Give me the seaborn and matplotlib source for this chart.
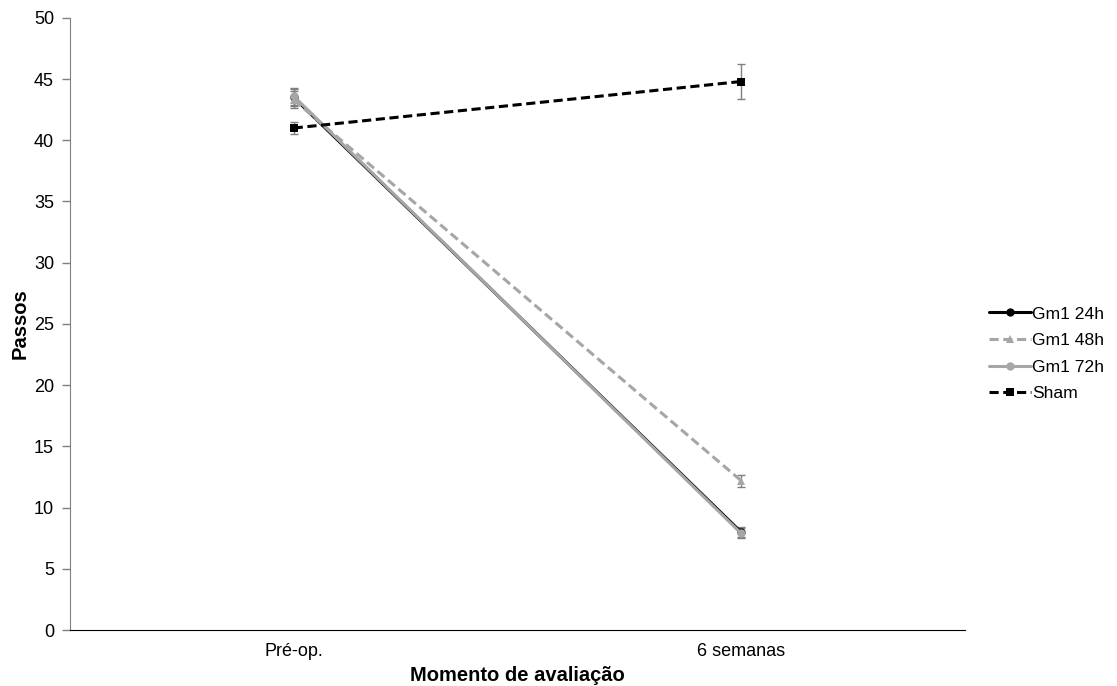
import numpy as np
import pandas as pd
import seaborn as sns
from matplotlib import pyplot as plt

# data
moments = ["Pré-op.", "6 semanas"]
series = ["Gm1 24h", "Gm1 48h", "Gm1 72h", "Sham"]
gm1_24h = [43.5, 8.0]
gm1_48h = [43.3, 12.2]
gm1_72h = [43.6, 7.9]
sham = [41.0, 44.8]
err_24h = [0.7, 0.4]
err_48h = [0.7, 0.5]
err_72h = [0.7, 0.4]
err_sham = [0.5, 1.4]

values = [gm1_24h, gm1_48h, gm1_72h, sham]
errors = [err_24h, err_48h, err_72h, err_sham]

df = pd.DataFrame(
    {
        "serie": np.repeat(series, len(moments)),
        "momento": moments * len(series),
        "x": list(range(len(moments))) * len(series),
        "passos": np.concatenate(values),
        "erro": np.concatenate(errors),
    }
)

sns.set_style("white")
plt.rcParams.update(
    {
        "font.family": ["Liberation Sans", "DejaVu Sans"],
        "text.color": "black",
        "axes.labelcolor": "black",
        "xtick.color": "black",
        "ytick.color": "black",
    }
)

colors = {"Gm1 24h": "black", "Gm1 48h": "#a6a6a6", "Gm1 72h": "#a6a6a6", "Sham": "black"}
markers = {"Gm1 24h": "o", "Gm1 48h": "^", "Gm1 72h": "o", "Sham": "s"}
dashes = {"Gm1 24h": "", "Gm1 48h": (3, 1.5), "Gm1 72h": "", "Sham": (3, 1.5)}

f = plt.figure(figsize=(11.17, 6.86), dpi=100)
ax = f.add_axes([0.0627, 0.0816, 0.801, 0.8924])

for s in series:
    sub = df[df["serie"] == s]
    ax.errorbar(
        sub["x"], sub["passos"], yerr=sub["erro"], fmt="none",
        ecolor="#7f7f7f", elinewidth=1, capsize=3, capthick=1, zorder=2,
    )

sns.lineplot(
    data=df, x="x", y="passos", hue="serie", style="serie",
    palette=colors, markers=markers, dashes=dashes,
    linewidth=2.2, markersize=6, markeredgewidth=0, ax=ax, zorder=3,
)

ax.set_xlim(-0.5, 1.5)
ax.set_ylim(0, 50)
ax.set_yticks(range(0, 51, 5))
ax.set_xticks(range(len(moments)))
ax.set_xticklabels(moments)
ax.tick_params(axis="y", direction="out", length=5.5, width=1, color="#808080",
               labelcolor="black", labelsize=13, left=True, pad=6)
ax.tick_params(axis="x", length=0, labelsize=13, labelcolor="black", pad=9)

ax.spines["top"].set_visible(False)
ax.spines["right"].set_visible(False)
ax.spines["left"].set_color("#808080")
ax.spines["bottom"].set_color("black")

ax.set_xlabel("Momento de avaliação", fontsize=14.5, fontweight="bold", labelpad=5)
ax.set_ylabel("Passos", fontsize=14.5, fontweight="bold", labelpad=3)

leg = ax.legend(
    loc="center left", bbox_to_anchor=(1.01, 0.451), frameon=False,
    fontsize=12.6, handlelength=2.4, handletextpad=0.05, labelspacing=0.65,
)
for h in leg.legend_handles:
    h.set_linewidth(2.2)

f.savefig("out.png", dpi=100)
